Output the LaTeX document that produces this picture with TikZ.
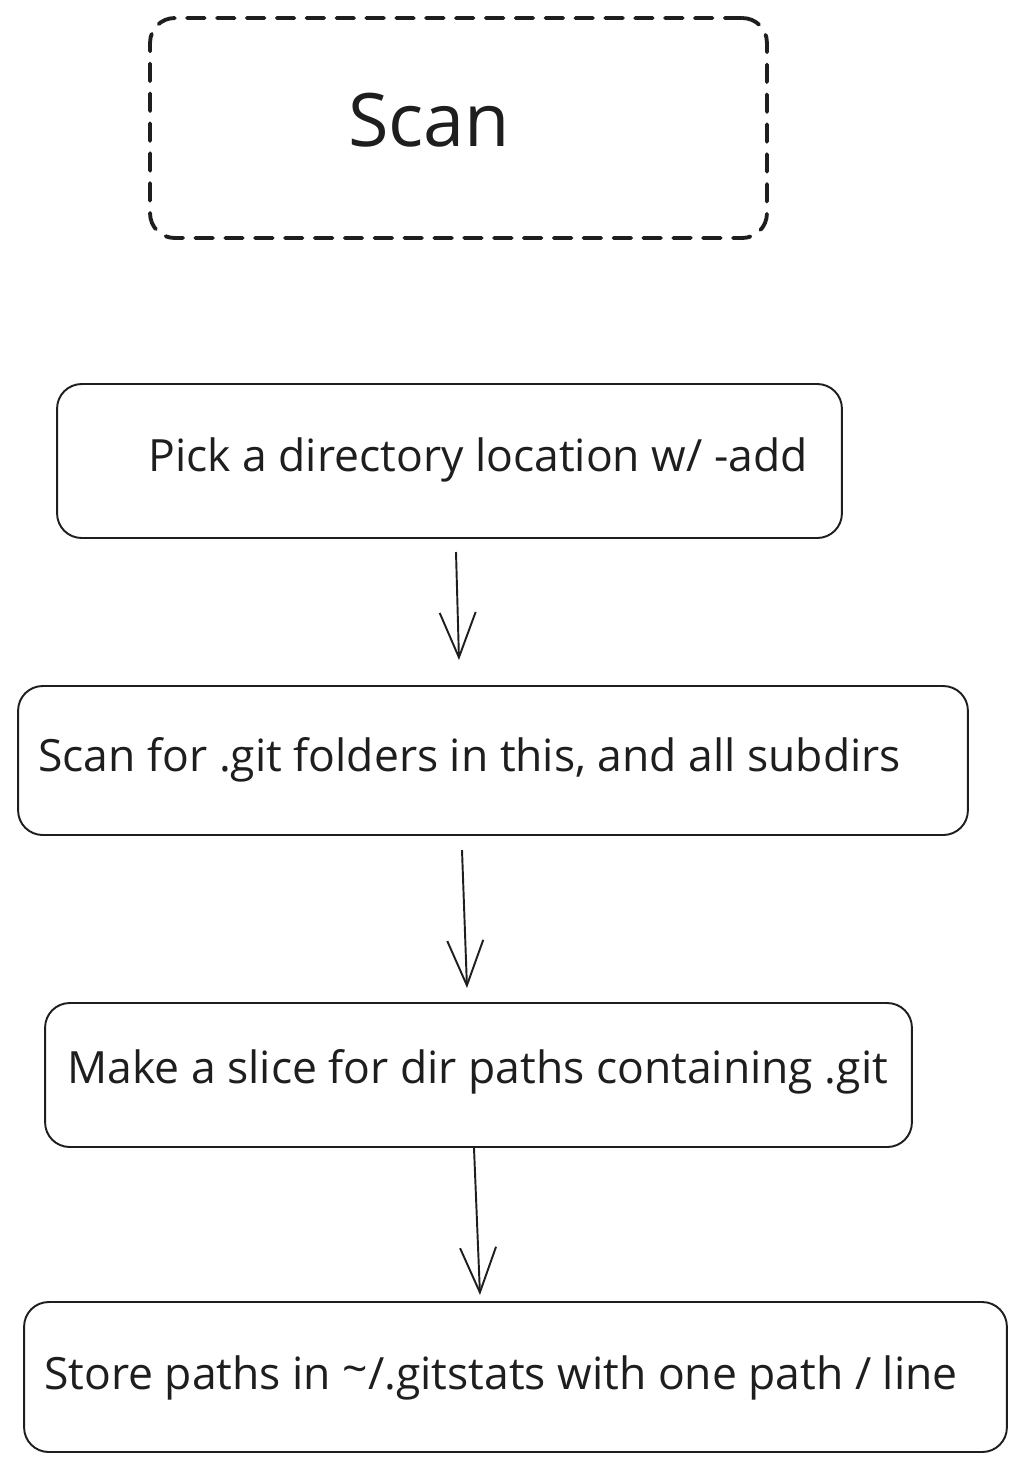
\documentclass[tikz,border=0pt]{standalone}
\usepackage{fontspec}
\setmainfont{Open Sans}
\usepackage{tikz}
\usetikzlibrary{arrows.meta}

\definecolor{ink}{HTML}{1E1E1E}

\begin{document}
\begin{tikzpicture}[x=0.02cm,y=-0.02cm,
	box/.style={draw=ink,line width=1.1pt,rounded corners=14pt,inner sep=0pt},
	txt/.style={anchor=west,inner sep=0pt,text=ink,font=\fontsize{25.3}{30}\selectfont}]
	\useasboundingbox (0,0) rectangle (1026,1472);

	\node[box,dashed,line width=2.2pt,dash pattern=on 10pt off 7pt,line cap=round,
		minimum width=12.34cm,minimum height=4.4cm] (scan) at (458.5,128){};
	\node[text=ink,font=\fontsize{42}{50}\selectfont] (scantxt) at (429,120){Scan};

	\node[box,minimum width=15.7cm,minimum height=3.08cm] (b1) at (449.5,461){};
	\node[txt] (t1) at (148,460){Pick a directory location w/ -add};

	\node[box,minimum width=19cm,minimum height=2.98cm] (b2) at (493,760.5){};
	\node[txt] (t2) at (38,760){Scan for .git folders in this, and all subdirs};

	\node[box,minimum width=17.34cm,minimum height=2.88cm] (b3) at (478.5,1075){};
	\node[txt] (t3) at (67,1072){Make a slice for dir paths containing .git};

	\node[box,minimum width=19.66cm,minimum height=3cm] (b4) at (515.5,1377){};
	\node[txt] (t4) at (44,1378){Store paths in {\raisebox{0.2ex}{\textasciitilde}}/.gitstats with one path / line};

	% arrow ends
	\coordinate (a1) at (456,552);  \coordinate (e1) at (459,660);
	\coordinate (a2) at (462,850);  \coordinate (e2) at (467,988);
	\coordinate (a3) at (474,1148); \coordinate (e3) at (480,1295);

	\begin{scope}[>={Straight Barb[length=9mm,width=7.2mm]},
			every edge/.style={draw=ink,line width=1.1pt}]
		\path[->] (a1) edge (e1);
		\path[->] (a2) edge (e2);
		\path[->] (a3) edge (e3);
	\end{scope}

\end{tikzpicture}
\end{document}
